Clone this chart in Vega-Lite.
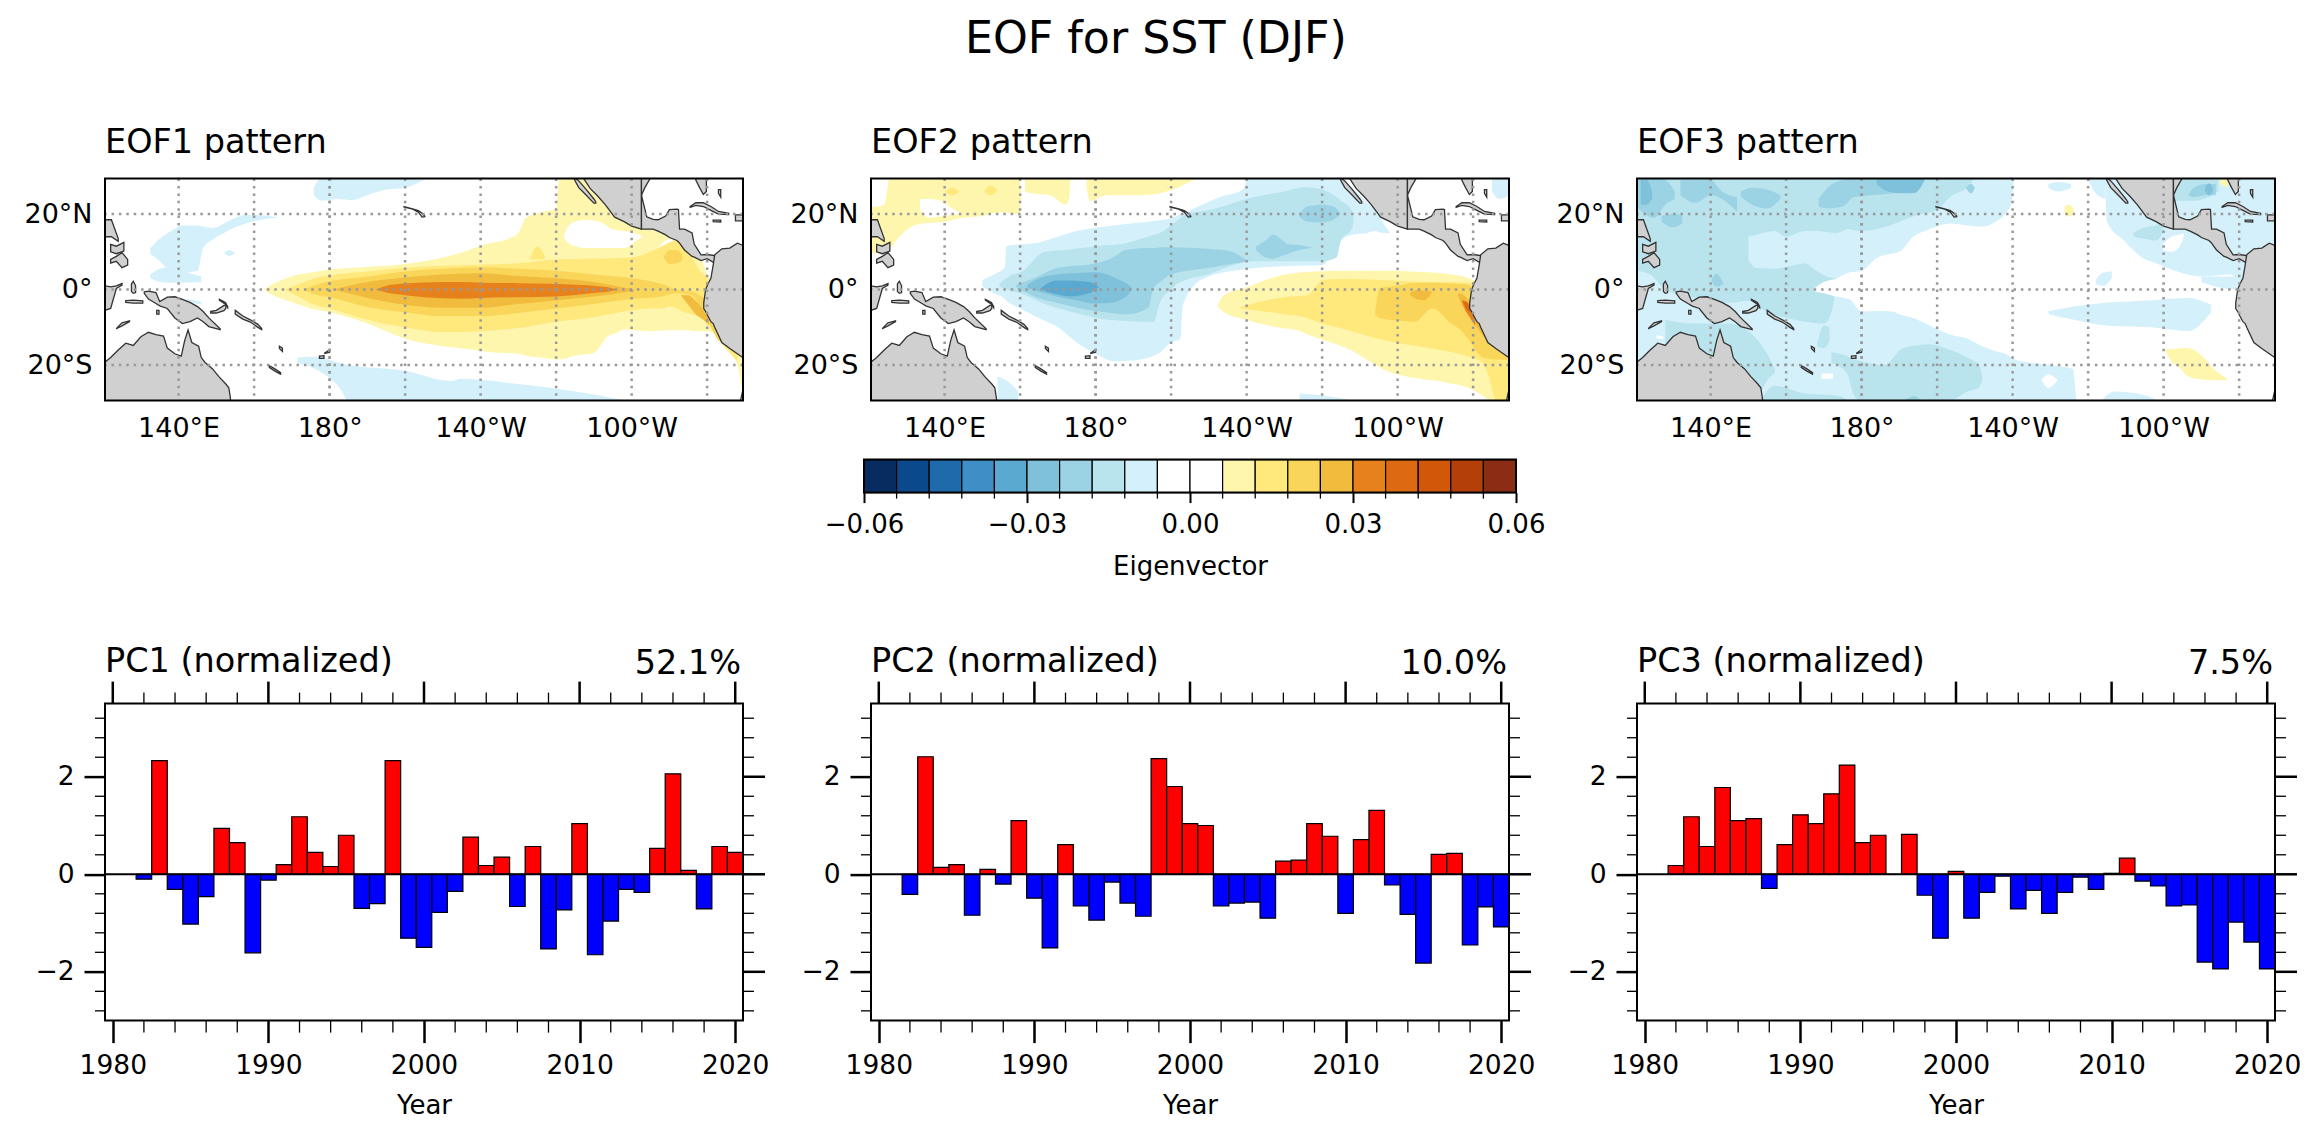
{"$schema":"https://vega.github.io/schema/vega-lite/v6.json","padding":{"left":23,"top":17.6,"right":10,"bottom":10},"background":"white","title":{"text":"EOF for SST (DJF)","fontSize":44.3,"anchor":"middle","offset":63.4,"dx":-6.6},"config":{"font":"DejaVu Sans","view":{"stroke":null},"title":{"fontWeight":"normal","color":"black"},"axis":{"labelColor":"black","titleColor":"black","tickColor":"black","titleFontWeight":"normal","labelFlush":false}},
"datasets":{
"one":[{"s":1}],
"xmaj":[{"year":1980},{"year":1990},{"year":2000},{"year":2010},{"year":2020}],
"xmin":[{"year":1982},{"year":1984},{"year":1986},{"year":1988},{"year":1992},{"year":1994},{"year":1996},{"year":1998},{"year":2002},{"year":2004},{"year":2006},{"year":2008},{"year":2012},{"year":2014},{"year":2016},{"year":2018}],
"ymaj":[{"pc":-2},{"pc":0},{"pc":2}],
"ymin":[{"pc":-2.8},{"pc":-2.4},{"pc":-1.6},{"pc":-1.2},{"pc":-0.8},{"pc":-0.4},{"pc":0.4},{"pc":0.8},{"pc":1.2},{"pc":1.6},{"pc":2.4},{"pc":2.8},{"pc":3.2}],
"cbmin":[{"lo":-0.054},{"lo":-0.048},{"lo":-0.042},{"lo":-0.036},{"lo":-0.024},{"lo":-0.018},{"lo":-0.012},{"lo":-0.006},{"lo":0.006},{"lo":0.012},{"lo":0.018},{"lo":0.024},{"lo":0.036},{"lo":0.042},{"lo":0.048},{"lo":0.054}],
"land":[
{"p":"aus","lon":120,"t":-19.6,"b":-30},{"p":"aus","lon":122,"t":-18,"b":-30},{"p":"aus","lon":124,"t":-16,"b":-30},{"p":"aus","lon":126,"t":-14.2,"b":-30},{"p":"aus","lon":128,"t":-14.8,"b":-30},{"p":"aus","lon":130,"t":-12.5,"b":-30},{"p":"aus","lon":132,"t":-11.3,"b":-30},{"p":"aus","lon":134,"t":-11.9,"b":-30},{"p":"aus","lon":136,"t":-12.3,"b":-30},{"p":"aus","lon":137,"t":-15.5,"b":-30},{"p":"aus","lon":139,"t":-17,"b":-30},{"p":"aus","lon":140.7,"t":-17.6,"b":-30},{"p":"aus","lon":141.6,"t":-13.5,"b":-30},{"p":"aus","lon":142.5,"t":-10.7,"b":-30},{"p":"aus","lon":143.5,"t":-14,"b":-30},{"p":"aus","lon":145.3,"t":-15,"b":-30},{"p":"aus","lon":146,"t":-18,"b":-30},{"p":"aus","lon":147,"t":-19.3,"b":-30},{"p":"aus","lon":149,"t":-21,"b":-30},{"p":"aus","lon":150.6,"t":-23,"b":-30},{"p":"aus","lon":152.5,"t":-25,"b":-30},{"p":"aus","lon":153.3,"t":-26,"b":-30},{"p":"aus","lon":153.7,"t":-28.6,"b":-30},{"p":"aus","lon":153.8,"t":-30,"b":-30},
{"p":"png","lon":130.9,"t":-0.6,"b":-1},{"p":"png","lon":132,"t":-0.4,"b":-2.5},{"p":"png","lon":134,"t":-0.8,"b":-3.7},{"p":"png","lon":135,"t":-3.2,"b":-4.3},{"p":"png","lon":137,"t":-2,"b":-5},{"p":"png","lon":139,"t":-1.9,"b":-7.5},{"p":"png","lon":141,"t":-2.6,"b":-9},{"p":"png","lon":143,"t":-3.4,"b":-8.5},{"p":"png","lon":145,"t":-4.5,"b":-7.5},{"p":"png","lon":146.5,"t":-5.8,"b":-8.5},{"p":"png","lon":148,"t":-7.5,"b":-9.8},{"p":"png","lon":151,"t":-10.4,"b":-10.6},
{"p":"luz","lon":120.4,"t":18.5,"b":14},{"p":"luz","lon":122.2,"t":18.5,"b":14},{"p":"luz","lon":124,"t":13.5,"b":12.8},
{"p":"vis","lon":122,"t":12,"b":10},{"p":"vis","lon":123.5,"t":11.5,"b":9.5},{"p":"vis","lon":125.5,"t":12.5,"b":10.2},
{"p":"min","lon":122,"t":8,"b":7},{"p":"min","lon":123.5,"t":8.8,"b":7.5},{"p":"min","lon":125,"t":9.8,"b":5.8},{"p":"min","lon":126.5,"t":8,"b":6.5},
{"p":"hal","lon":127.5,"t":1.5,"b":-0.5},{"p":"hal","lon":128,"t":2.2,"b":-1},{"p":"hal","lon":128.6,"t":1,"b":-0.8},
{"p":"sul","lon":120.4,"t":1,"b":-5.5},{"p":"sul","lon":122,"t":0.7,"b":-5},{"p":"sul","lon":123.5,"t":1,"b":0.3},{"p":"sul","lon":125,"t":1.6,"b":1.2},
{"p":"ser","lon":126,"t":-2.9,"b":-3.4},{"p":"ser","lon":128,"t":-2.8,"b":-3.6},{"p":"ser","lon":130.5,"t":-3,"b":-3.6},
{"p":"tim","lon":123.6,"t":-10.2,"b":-10.3},{"p":"tim","lon":125,"t":-8.8,"b":-9.6},{"p":"tim","lon":127,"t":-8.3,"b":-8.5},
{"p":"aru","lon":134.2,"t":-5.5,"b":-6.5},{"p":"aru","lon":134.8,"t":-5.5,"b":-6.5},
{"p":"nb","lon":148.5,"t":-5.8,"b":-6.2},{"p":"nb","lon":150,"t":-5.5,"b":-6.2},{"p":"nb","lon":152,"t":-4.2,"b":-5.6},{"p":"nb","lon":152.5,"t":-4.2,"b":-5},
{"p":"ni","lon":150.8,"t":-2.6,"b":-2.8},{"p":"ni","lon":152.4,"t":-3.4,"b":-3.9},{"p":"ni","lon":153,"t":-4.5,"b":-4.8},
{"p":"sol","lon":155,"t":-5.5,"b":-6.5},{"p":"sol","lon":157,"t":-7,"b":-7.8},{"p":"sol","lon":159,"t":-8,"b":-8.6},{"p":"sol","lon":161,"t":-9.2,"b":-10},{"p":"sol","lon":162,"t":-10.3,"b":-10.6},
{"p":"van","lon":166.7,"t":-15,"b":-15.6},{"p":"van","lon":167.5,"t":-15.5,"b":-16.4},
{"p":"nc","lon":164,"t":-20.1,"b":-20.6},{"p":"nc","lon":165.5,"t":-21,"b":-21.6},{"p":"nc","lon":167,"t":-22,"b":-22.4},
{"p":"fj1","lon":177.3,"t":-17.6,"b":-18.2},{"p":"fj1","lon":178.5,"t":-17.5,"b":-18.2},
{"p":"fj2","lon":178.7,"t":-16.8,"b":-16.9},{"p":"fj2","lon":180,"t":-15.9,"b":-16.6},
{"p":"haw","lon":199.7,"t":22,"b":21.9},{"p":"haw","lon":202,"t":21.4,"b":21.3},{"p":"haw","lon":203.5,"t":20.9,"b":20.5},{"p":"haw","lon":204.5,"t":20.2,"b":19.2},{"p":"haw","lon":205.2,"t":19.5,"b":19.3},
{"p":"baj","lon":244.9,"t":29.6,"b":29},{"p":"baj","lon":246,"t":28.8,"b":27},{"p":"baj","lon":248,"t":26.5,"b":25},{"p":"baj","lon":250,"t":24,"b":22.9},{"p":"baj","lon":250.5,"t":23.2,"b":22.9},
{"p":"mex","lon":247.3,"t":30,"b":29.4},{"p":"mex","lon":249,"t":30,"b":26.8},{"p":"mex","lon":251,"t":30,"b":24.8},{"p":"mex","lon":253,"t":30,"b":22.5},{"p":"mex","lon":254.5,"t":30,"b":20.5},{"p":"mex","lon":255.5,"t":30,"b":19.2},{"p":"mex","lon":258,"t":30,"b":18},{"p":"mex","lon":260,"t":30,"b":16.8},{"p":"mex","lon":262.6,"t":30,"b":16},
{"p":"mx2","lon":262.6,"t":30,"b":25},{"p":"mx2","lon":263.5,"t":30,"b":27},{"p":"mx2","lon":265,"t":30,"b":29.6},
{"p":"cam","lon":262.6,"t":25,"b":16},{"p":"cam","lon":264,"t":19.3,"b":16},{"p":"cam","lon":265.7,"t":18.6,"b":16},{"p":"cam","lon":267,"t":18.5,"b":15.5},{"p":"cam","lon":269,"t":19.5,"b":14.5},{"p":"cam","lon":270,"t":21.2,"b":13.8},{"p":"cam","lon":272,"t":21.3,"b":13},{"p":"cam","lon":272.4,"t":21.2,"b":12.6},{"p":"cam","lon":272.7,"t":16,"b":12.3},{"p":"cam","lon":274,"t":16,"b":10.5},{"p":"cam","lon":276,"t":15,"b":8.8},{"p":"cam","lon":276.6,"t":12,"b":8.6},{"p":"cam","lon":278.4,"t":9.2,"b":7.7},{"p":"cam","lon":280,"t":9.3,"b":8.2},{"p":"cam","lon":282,"t":9,"b":7},
{"p":"sam","lon":279.1,"t":-3.5,"b":-5},{"p":"sam","lon":279.6,"t":0,"b":-5.8},{"p":"sam","lon":280.2,"t":1.5,"b":-7},{"p":"sam","lon":281,"t":3,"b":-8.5},{"p":"sam","lon":281.6,"t":6.5,"b":-9},{"p":"sam","lon":282,"t":9.2,"b":-10},{"p":"sam","lon":283.9,"t":10.8,"b":-14},{"p":"sam","lon":286,"t":11,"b":-15.6},{"p":"sam","lon":288,"t":12.3,"b":-17},{"p":"sam","lon":290,"t":11.5,"b":-18.4},
{"p":"chi","lon":288.7,"t":-30,"b":-30},{"p":"chi","lon":289.6,"t":-26,"b":-30},
{"p":"flo","lon":277,"t":30,"b":29},{"p":"flo","lon":278,"t":30,"b":27},{"p":"flo","lon":279,"t":30,"b":25.2},{"p":"flo","lon":279.8,"t":30,"b":26},
{"p":"cub","lon":275.5,"t":22,"b":21.8},{"p":"cub","lon":277,"t":23,"b":22.3},{"p":"cub","lon":279,"t":23,"b":22},{"p":"cub","lon":281,"t":22,"b":21},{"p":"cub","lon":283,"t":20.7,"b":20},{"p":"cub","lon":285.7,"t":20.2,"b":19.9},
{"p":"jam","lon":281.6,"t":18.4,"b":18},{"p":"jam","lon":283.6,"t":18.4,"b":17.9},
{"p":"his","lon":287.5,"t":19.8,"b":18.2},{"p":"his","lon":289.7,"t":19.8,"b":18.2},
{"p":"bah","lon":283,"t":26.5,"b":25.5},{"p":"bah","lon":283.6,"t":26.5,"b":24.5}
],
"gridlon":[{"lon":140},{"lon":160},{"lon":180},{"lon":180},{"lon":200},{"lon":220},{"lon":240},{"lon":260},{"lon":280}],
"gridlat":[{"t":-20},{"t":0},{"t":20}],
"eof1":[
{"p":"a","v":0.009,"lon":162.5,"t":0,"b":0},{"p":"a","v":0.009,"lon":165,"t":1.5,"b":-1.5},{"p":"a","v":0.009,"lon":170,"t":3.5,"b":-3.3},{"p":"a","v":0.009,"lon":175,"t":4.5,"b":-5},{"p":"a","v":0.009,"lon":180,"t":5.3,"b":-6},{"p":"a","v":0.009,"lon":190,"t":6,"b":-9},{"p":"a","v":0.009,"lon":200,"t":6.8,"b":-13},{"p":"a","v":0.009,"lon":210,"t":8.5,"b":-15},{"p":"a","v":0.009,"lon":217,"t":10.5,"b":-15.8},{"p":"a","v":0.009,"lon":222,"t":12.2,"b":-16.5},{"p":"a","v":0.009,"lon":227,"t":13.3,"b":-16.8},{"p":"a","v":0.009,"lon":230,"t":15,"b":-17},{"p":"a","v":0.009,"lon":232,"t":19,"b":-17.5},{"p":"a","v":0.009,"lon":236,"t":20.5,"b":-18},{"p":"a","v":0.009,"lon":240,"t":21.5,"b":-18.5},{"p":"a","v":0.009,"lon":240.8,"t":29.6,"b":-18.5},{"p":"a","v":0.009,"lon":245,"t":29.6,"b":-17.5},{"p":"a","v":0.009,"lon":250,"t":29.6,"b":-16.8},{"p":"a","v":0.009,"lon":252,"t":29.6,"b":-14.5},{"p":"a","v":0.009,"lon":253.5,"t":29.6,"b":-12.5},{"p":"a","v":0.009,"lon":256,"t":20,"b":-11.5},{"p":"a","v":0.009,"lon":258,"t":18.5,"b":-10.5},{"p":"a","v":0.009,"lon":260,"t":18,"b":-10.8},{"p":"a","v":0.009,"lon":265,"t":17,"b":-11},{"p":"a","v":0.009,"lon":270,"t":15,"b":-10.8},{"p":"a","v":0.009,"lon":274,"t":11.5,"b":-10.8},{"p":"a","v":0.009,"lon":278,"t":9,"b":-11},{"p":"a","v":0.009,"lon":280,"t":4,"b":-11},{"p":"a","v":0.009,"lon":281,"t":2,"b":-11.2},{"p":"a","v":0.009,"lon":282,"t":-8,"b":-11.5},{"p":"a","v":0.009,"lon":284,"t":-10,"b":-14.7},{"p":"a","v":0.009,"lon":286,"t":-14,"b":-17},{"p":"a","v":0.009,"lon":288,"t":-17,"b":-20},{"p":"a","v":0.009,"lon":289.6,"t":-18,"b":-29.6},
{"p":"h1","v":0.003,"lon":242,"t":14,"b":14},{"p":"h1","v":0.003,"lon":243,"t":16.5,"b":12.5},{"p":"h1","v":0.003,"lon":245,"t":18,"b":11.5},{"p":"h1","v":0.003,"lon":248,"t":18.5,"b":11},{"p":"h1","v":0.003,"lon":252,"t":17.8,"b":11},{"p":"h1","v":0.003,"lon":255,"t":16,"b":11},{"p":"h1","v":0.003,"lon":258,"t":15.5,"b":11},{"p":"h1","v":0.003,"lon":260,"t":15.2,"b":12},{"p":"h1","v":0.003,"lon":262,"t":14.5,"b":13.5},{"p":"h1","v":0.003,"lon":263,"t":14,"b":14},
{"p":"h2","v":0.003,"lon":267,"t":11,"b":10.5},{"p":"h2","v":0.003,"lon":269,"t":13,"b":11},{"p":"h2","v":0.003,"lon":271,"t":13.5,"b":13},
{"p":"b","v":0.015,"lon":168,"t":0,"b":0},{"p":"b","v":0.015,"lon":172,"t":1.5,"b":-2},{"p":"b","v":0.015,"lon":176,"t":3,"b":-4},{"p":"b","v":0.015,"lon":180,"t":3.8,"b":-5},{"p":"b","v":0.015,"lon":190,"t":4.8,"b":-8},{"p":"b","v":0.015,"lon":200,"t":5.8,"b":-10},{"p":"b","v":0.015,"lon":210,"t":6.3,"b":-11.3},{"p":"b","v":0.015,"lon":220,"t":6.6,"b":-11},{"p":"b","v":0.015,"lon":230,"t":7,"b":-10.2},{"p":"b","v":0.015,"lon":240,"t":8,"b":-8.5},{"p":"b","v":0.015,"lon":250,"t":8.2,"b":-7.3},{"p":"b","v":0.015,"lon":260,"t":8.5,"b":-5.5},{"p":"b","v":0.015,"lon":265,"t":10,"b":-5},{"p":"b","v":0.015,"lon":268,"t":11.5,"b":-5},{"p":"b","v":0.015,"lon":270,"t":12.5,"b":-4.5},{"p":"b","v":0.015,"lon":272,"t":13,"b":-5},{"p":"b","v":0.015,"lon":274,"t":10.5,"b":-6},{"p":"b","v":0.015,"lon":276,"t":8.5,"b":-6.5},{"p":"b","v":0.015,"lon":278,"t":5,"b":-7},{"p":"b","v":0.015,"lon":280,"t":3,"b":-8.5},{"p":"b","v":0.015,"lon":281,"t":1,"b":-10},{"p":"b","v":0.015,"lon":282,"t":0,"b":-11},{"p":"b","v":0.015,"lon":283.5,"t":-8,"b":-13.5},{"p":"b","v":0.015,"lon":284.5,"t":-12,"b":-14.8},{"p":"b","v":0.015,"lon":286,"t":-14,"b":-16.5},{"p":"b","v":0.015,"lon":288,"t":-17,"b":-19},
{"p":"b2","v":0.015,"lon":233,"t":8,"b":8},{"p":"b2","v":0.015,"lon":235,"t":11.4,"b":8},{"p":"b2","v":0.015,"lon":237,"t":9,"b":8},
{"p":"c2","v":0.021,"lon":268.5,"t":8.5,"b":8.5},{"p":"c2","v":0.021,"lon":270,"t":10.5,"b":6.8},{"p":"c2","v":0.021,"lon":272,"t":10.5,"b":7},{"p":"c2","v":0.021,"lon":273.5,"t":9,"b":8},
{"p":"c","v":0.021,"lon":173,"t":0,"b":0},{"p":"c","v":0.021,"lon":176,"t":1.2,"b":-1.2},{"p":"c","v":0.021,"lon":180,"t":2.2,"b":-2},{"p":"c","v":0.021,"lon":190,"t":3.5,"b":-4.6},{"p":"c","v":0.021,"lon":200,"t":4.8,"b":-6},{"p":"c","v":0.021,"lon":210,"t":5.5,"b":-7},{"p":"c","v":0.021,"lon":220,"t":5.9,"b":-7},{"p":"c","v":0.021,"lon":230,"t":5.5,"b":-6.2},{"p":"c","v":0.021,"lon":240,"t":5,"b":-5},{"p":"c","v":0.021,"lon":250,"t":4,"b":-3.8},{"p":"c","v":0.021,"lon":260,"t":3,"b":-2.5},{"p":"c","v":0.021,"lon":268,"t":1.5,"b":-1.8},{"p":"c","v":0.021,"lon":272,"t":0,"b":-1},{"p":"c","v":0.021,"lon":276,"t":-0.5,"b":-1.5},{"p":"c","v":0.021,"lon":278,"t":-1.5,"b":-4.5},{"p":"c","v":0.021,"lon":279.5,"t":-3,"b":-7},{"p":"c","v":0.021,"lon":281,"t":-7,"b":-10},{"p":"c","v":0.021,"lon":283,"t":-11.5,"b":-13.5},{"p":"c","v":0.021,"lon":284,"t":-13.5,"b":-14.3},
{"p":"d","v":0.027,"lon":181,"t":0,"b":0},{"p":"d","v":0.027,"lon":185,"t":1,"b":-1},{"p":"d","v":0.027,"lon":190,"t":2,"b":-2.2},{"p":"d","v":0.027,"lon":200,"t":3.2,"b":-4},{"p":"d","v":0.027,"lon":210,"t":4,"b":-4.8},{"p":"d","v":0.027,"lon":220,"t":4.3,"b":-4.8},{"p":"d","v":0.027,"lon":230,"t":3.6,"b":-3.8},{"p":"d","v":0.027,"lon":240,"t":3,"b":-2.8},{"p":"d","v":0.027,"lon":250,"t":2,"b":-1.8},{"p":"d","v":0.027,"lon":258,"t":0.5,"b":-0.7},{"p":"d","v":0.027,"lon":261,"t":0,"b":0},
{"p":"d2","v":0.027,"lon":273,"t":-1.5,"b":-1.5},{"p":"d2","v":0.027,"lon":275,"t":-1.5,"b":-4},{"p":"d2","v":0.027,"lon":277,"t":-3,"b":-6.5},{"p":"d2","v":0.027,"lon":279,"t":-5.5,"b":-8},{"p":"d2","v":0.027,"lon":280.5,"t":-8,"b":-9.5},
{"p":"e","v":0.033,"lon":192.2,"t":0,"b":0},{"p":"e","v":0.033,"lon":195,"t":1,"b":-0.8},{"p":"e","v":0.033,"lon":200,"t":1.6,"b":-1.5},{"p":"e","v":0.033,"lon":210,"t":2,"b":-2.3},{"p":"e","v":0.033,"lon":215,"t":2,"b":-2.4},{"p":"e","v":0.033,"lon":220,"t":1.8,"b":-2.2},{"p":"e","v":0.033,"lon":230,"t":1.7,"b":-2},{"p":"e","v":0.033,"lon":240,"t":1.5,"b":-1.8},{"p":"e","v":0.033,"lon":250,"t":1,"b":-0.9},{"p":"e","v":0.033,"lon":255,"t":0.3,"b":-0.3},{"p":"e","v":0.033,"lon":256,"t":0,"b":0},
{"p":"n1","v":-0.009,"lon":132.5,"t":11,"b":9.5},{"p":"n1","v":-0.009,"lon":135,"t":13.5,"b":7.5},{"p":"n1","v":-0.009,"lon":138,"t":15.5,"b":5},{"p":"n1","v":-0.009,"lon":141,"t":17,"b":4.5},{"p":"n1","v":-0.009,"lon":145,"t":17,"b":5},{"p":"n1","v":-0.009,"lon":146.5,"t":16.7,"b":11},{"p":"n1","v":-0.009,"lon":149,"t":16.3,"b":13.2},{"p":"n1","v":-0.009,"lon":152,"t":17.5,"b":15},{"p":"n1","v":-0.009,"lon":155,"t":19,"b":16.5},{"p":"n1","v":-0.009,"lon":158,"t":19.8,"b":17.6},{"p":"n1","v":-0.009,"lon":162,"t":19.7,"b":18.5},{"p":"n1","v":-0.009,"lon":166,"t":19.2,"b":19},
{"p":"n2","v":-0.009,"lon":132.5,"t":4,"b":3},{"p":"n2","v":-0.009,"lon":135,"t":5.5,"b":2},{"p":"n2","v":-0.009,"lon":138,"t":6,"b":1.8},{"p":"n2","v":-0.009,"lon":141,"t":5,"b":1.8},{"p":"n2","v":-0.009,"lon":146,"t":3.5,"b":2},
{"p":"n3","v":-0.009,"lon":152,"t":9.7,"b":9.7},{"p":"n3","v":-0.009,"lon":153.4,"t":10.4,"b":8.9},{"p":"n3","v":-0.009,"lon":155,"t":9.7,"b":9.7},
{"p":"n4","v":-0.009,"lon":175.8,"t":27,"b":25},{"p":"n4","v":-0.009,"lon":178,"t":29.6,"b":23.5},{"p":"n4","v":-0.009,"lon":182,"t":29.6,"b":24},{"p":"n4","v":-0.009,"lon":186,"t":29.6,"b":23.7},{"p":"n4","v":-0.009,"lon":190,"t":29.6,"b":25},{"p":"n4","v":-0.009,"lon":195,"t":29.6,"b":26.5},{"p":"n4","v":-0.009,"lon":200,"t":29.6,"b":27},{"p":"n4","v":-0.009,"lon":206,"t":29.6,"b":29.6},
{"p":"n5","v":-0.009,"lon":171.5,"t":-18,"b":-19.5},{"p":"n5","v":-0.009,"lon":175,"t":-17.8,"b":-20.5},{"p":"n5","v":-0.009,"lon":179,"t":-18.3,"b":-22.7},{"p":"n5","v":-0.009,"lon":183,"t":-19.5,"b":-26.5},{"p":"n5","v":-0.009,"lon":185,"t":-20,"b":-29.6},{"p":"n5","v":-0.009,"lon":200,"t":-21.5,"b":-29.6},{"p":"n5","v":-0.009,"lon":212,"t":-24.2,"b":-29.6},{"p":"n5","v":-0.009,"lon":215,"t":-23.6,"b":-29.6},{"p":"n5","v":-0.009,"lon":230,"t":-25,"b":-29.6},{"p":"n5","v":-0.009,"lon":242,"t":-26.5,"b":-29.6},{"p":"n5","v":-0.009,"lon":250,"t":-27.8,"b":-29.6},{"p":"n5","v":-0.009,"lon":259,"t":-29.6,"b":-29.6},
{"p":"n6","v":-0.009,"lon":142,"t":-2.5,"b":-3},{"p":"n6","v":-0.009,"lon":146,"t":-3.2,"b":-4}
],
"eof2":[
{"p":"a","v":0.009,"lon":120.4,"t":22,"b":10},{"p":"a","v":0.009,"lon":122,"t":22,"b":9.5},{"p":"a","v":0.009,"lon":124,"t":22.5,"b":10.5},{"p":"a","v":0.009,"lon":125.5,"t":29.6,"b":11},{"p":"a","v":0.009,"lon":128,"t":29.6,"b":14},{"p":"a","v":0.009,"lon":131,"t":29.6,"b":16.5},{"p":"a","v":0.009,"lon":134,"t":29.6,"b":17.5},{"p":"a","v":0.009,"lon":140,"t":29.6,"b":18},{"p":"a","v":0.009,"lon":145,"t":29.6,"b":19},{"p":"a","v":0.009,"lon":150,"t":29.6,"b":19.5},{"p":"a","v":0.009,"lon":155,"t":29.6,"b":20.5},{"p":"a","v":0.009,"lon":159.8,"t":29.6,"b":20},{"p":"a","v":0.009,"lon":160.3,"t":25,"b":25},
{"p":"h","v":0.003,"lon":133.5,"t":24,"b":21},{"p":"h","v":0.003,"lon":136,"t":24,"b":19},{"p":"h","v":0.003,"lon":139,"t":23.5,"b":19.4},{"p":"h","v":0.003,"lon":142,"t":21.5,"b":19.8},{"p":"h","v":0.003,"lon":145,"t":20,"b":20},
{"p":"s1","v":0.015,"lon":140,"t":26,"b":26},{"p":"s1","v":0.015,"lon":142,"t":27,"b":25},{"p":"s1","v":0.015,"lon":144,"t":26,"b":26},
{"p":"s2","v":0.015,"lon":150.5,"t":26,"b":26},{"p":"s2","v":0.015,"lon":152,"t":27.5,"b":25},{"p":"s2","v":0.015,"lon":154,"t":26.4,"b":26.4},
{"p":"b1","v":0.009,"lon":161.3,"t":29.6,"b":26},{"p":"b1","v":0.009,"lon":163,"t":29.6,"b":25.5},{"p":"b1","v":0.009,"lon":168,"t":29.6,"b":25},{"p":"b1","v":0.009,"lon":172,"t":29.6,"b":22.5},{"p":"b1","v":0.009,"lon":173,"t":29.6,"b":24},{"p":"b1","v":0.009,"lon":173.3,"t":29.6,"b":29.6},
{"p":"c1","v":0.009,"lon":177.6,"t":29.6,"b":27},{"p":"c1","v":0.009,"lon":178.5,"t":29.6,"b":23.5},{"p":"c1","v":0.009,"lon":183,"t":29.6,"b":25},{"p":"c1","v":0.009,"lon":188,"t":29.6,"b":25},{"p":"c1","v":0.009,"lon":192,"t":29.6,"b":25},{"p":"c1","v":0.009,"lon":200,"t":29.6,"b":26.3},{"p":"c1","v":0.009,"lon":207,"t":29.6,"b":29.6},
{"p":"at","v":-0.009,"lon":285,"t":29.6,"b":26},{"p":"at","v":-0.009,"lon":287,"t":29.6,"b":24},{"p":"at","v":-0.009,"lon":289.6,"t":29.6,"b":25},
{"p":"n1","v":-0.009,"lon":150,"t":2.5,"b":0.8},{"p":"n1","v":-0.009,"lon":153,"t":4,"b":-1},{"p":"n1","v":-0.009,"lon":156,"t":6,"b":-2.5},{"p":"n1","v":-0.009,"lon":156.3,"t":11.5,"b":-2.8},{"p":"n1","v":-0.009,"lon":160,"t":12,"b":-5},{"p":"n1","v":-0.009,"lon":165,"t":12.5,"b":-7.5},{"p":"n1","v":-0.009,"lon":170,"t":14,"b":-10},{"p":"n1","v":-0.009,"lon":175,"t":15.5,"b":-14},{"p":"n1","v":-0.009,"lon":180,"t":16.4,"b":-17},{"p":"n1","v":-0.009,"lon":185,"t":17,"b":-19},{"p":"n1","v":-0.009,"lon":190,"t":17.6,"b":-18.8},{"p":"n1","v":-0.009,"lon":196.5,"t":18.3,"b":-17},{"p":"n1","v":-0.009,"lon":200,"t":18.9,"b":-14},{"p":"n1","v":-0.009,"lon":202.5,"t":20,"b":-13},{"p":"n1","v":-0.009,"lon":203,"t":20.2,"b":-5},{"p":"n1","v":-0.009,"lon":204,"t":20.5,"b":-2},{"p":"n1","v":-0.009,"lon":206,"t":21.5,"b":1},{"p":"n1","v":-0.009,"lon":210,"t":23.3,"b":3.5},{"p":"n1","v":-0.009,"lon":213,"t":24.5,"b":4.3},{"p":"n1","v":-0.009,"lon":219,"t":26.5,"b":5.3},{"p":"n1","v":-0.009,"lon":220.5,"t":29.6,"b":5.5},{"p":"n1","v":-0.009,"lon":230,"t":29.6,"b":6.2},{"p":"n1","v":-0.009,"lon":240,"t":29.6,"b":6.5},{"p":"n1","v":-0.009,"lon":243,"t":29.6,"b":10},{"p":"n1","v":-0.009,"lon":245,"t":29.6,"b":13},{"p":"n1","v":-0.009,"lon":248,"t":27,"b":14.5},{"p":"n1","v":-0.009,"lon":252,"t":23,"b":15},{"p":"n1","v":-0.009,"lon":254,"t":21,"b":15.5},{"p":"n1","v":-0.009,"lon":256,"t":18,"b":15},{"p":"n1","v":-0.009,"lon":258,"t":15,"b":15},
{"p":"n2","v":-0.015,"lon":154.5,"t":1.5,"b":0.8},{"p":"n2","v":-0.015,"lon":158,"t":4,"b":-0.5},{"p":"n2","v":-0.015,"lon":160,"t":4.5,"b":-1},{"p":"n2","v":-0.015,"lon":166.5,"t":10,"b":-3.8},{"p":"n2","v":-0.015,"lon":172,"t":10.5,"b":-5.5},{"p":"n2","v":-0.015,"lon":176,"t":11,"b":-6.5},{"p":"n2","v":-0.015,"lon":180,"t":11.5,"b":-7.5},{"p":"n2","v":-0.015,"lon":188,"t":12.3,"b":-8.3},{"p":"n2","v":-0.015,"lon":192,"t":13.5,"b":-8.5},{"p":"n2","v":-0.015,"lon":195.5,"t":14.5,"b":-8.5},{"p":"n2","v":-0.015,"lon":197,"t":15,"b":-3.5},{"p":"n2","v":-0.015,"lon":200,"t":17,"b":0},{"p":"n2","v":-0.015,"lon":201.3,"t":18,"b":1.3},{"p":"n2","v":-0.015,"lon":203.7,"t":19.8,"b":2.5},{"p":"n2","v":-0.015,"lon":209.8,"t":21,"b":4},{"p":"n2","v":-0.015,"lon":215,"t":22.5,"b":6},{"p":"n2","v":-0.015,"lon":222,"t":24.5,"b":7.5},{"p":"n2","v":-0.015,"lon":230,"t":26,"b":7.5},{"p":"n2","v":-0.015,"lon":235.3,"t":27.2,"b":7.5},{"p":"n2","v":-0.015,"lon":240,"t":26.5,"b":7.5},{"p":"n2","v":-0.015,"lon":243.8,"t":24.5,"b":8.5},{"p":"n2","v":-0.015,"lon":245,"t":23.5,"b":13},{"p":"n2","v":-0.015,"lon":248,"t":20.7,"b":16.3},{"p":"n2","v":-0.015,"lon":248.3,"t":18.5,"b":18.5},
{"p":"n3","v":-0.021,"lon":158.8,"t":1.2,"b":0.8},{"p":"n3","v":-0.021,"lon":163.7,"t":3,"b":-1.8},{"p":"n3","v":-0.021,"lon":169.7,"t":5.7,"b":-3.5},{"p":"n3","v":-0.021,"lon":180,"t":7,"b":-5.7},{"p":"n3","v":-0.021,"lon":184.3,"t":8.4,"b":-6.2},{"p":"n3","v":-0.021,"lon":188,"t":10.5,"b":-6.6},{"p":"n3","v":-0.021,"lon":194,"t":11,"b":-4.8},{"p":"n3","v":-0.021,"lon":195.2,"t":11,"b":0},{"p":"n3","v":-0.021,"lon":197.7,"t":11.2,"b":2.5},{"p":"n3","v":-0.021,"lon":200,"t":11.2,"b":4},{"p":"n3","v":-0.021,"lon":209.8,"t":10.8,"b":5.7},{"p":"n3","v":-0.021,"lon":215.9,"t":10.1,"b":6.8},{"p":"n3","v":-0.021,"lon":220,"t":7.9,"b":7.5},{"p":"n3","v":-0.021,"lon":220.5,"t":7.7,"b":7.7},
{"p":"n4","v":-0.021,"lon":222.5,"t":11.5,"b":10.5},{"p":"n4","v":-0.021,"lon":225,"t":13,"b":8.5},{"p":"n4","v":-0.021,"lon":227,"t":14.5,"b":8.2},{"p":"n4","v":-0.021,"lon":229,"t":13.5,"b":8.8},{"p":"n4","v":-0.021,"lon":231,"t":12,"b":9.5},{"p":"n4","v":-0.021,"lon":234,"t":11.8,"b":10.5},{"p":"n4","v":-0.021,"lon":237.5,"t":11,"b":11},
{"p":"n5","v":-0.021,"lon":234,"t":19.8,"b":19.3},{"p":"n5","v":-0.021,"lon":236,"t":22,"b":18},{"p":"n5","v":-0.021,"lon":240,"t":22.5,"b":17.8},{"p":"n5","v":-0.021,"lon":243,"t":22,"b":18.5},{"p":"n5","v":-0.021,"lon":245,"t":20,"b":20},
{"p":"n6","v":-0.027,"lon":161.9,"t":1.2,"b":0.5},{"p":"n6","v":-0.027,"lon":165,"t":3,"b":-0.5},{"p":"n6","v":-0.027,"lon":169.7,"t":4,"b":-1.8},{"p":"n6","v":-0.027,"lon":175,"t":4.4,"b":-2.8},{"p":"n6","v":-0.027,"lon":180,"t":4.6,"b":-3.7},{"p":"n6","v":-0.027,"lon":184.3,"t":3.5,"b":-3.5},{"p":"n6","v":-0.027,"lon":187,"t":2.2,"b":-2.5},{"p":"n6","v":-0.027,"lon":189.2,"t":0.9,"b":-0.5},{"p":"n6","v":-0.027,"lon":189.5,"t":0.6,"b":0.6},
{"p":"n7","v":-0.033,"lon":165.5,"t":0.4,"b":0.3},{"p":"n7","v":-0.033,"lon":167,"t":1.5,"b":-0.5},{"p":"n7","v":-0.033,"lon":169.7,"t":2.4,"b":-1.2},{"p":"n7","v":-0.033,"lon":173.4,"t":2.4,"b":-1.8},{"p":"n7","v":-0.033,"lon":178.2,"t":2,"b":-1},{"p":"n7","v":-0.033,"lon":180.7,"t":0.9,"b":0.5},
{"p":"sb","v":-0.009,"lon":154,"t":-23,"b":-29.6},{"p":"sb","v":-0.009,"lon":157,"t":-24.5,"b":-29.6},{"p":"sb","v":-0.009,"lon":159.5,"t":-27,"b":-29.6},
{"p":"sc","v":-0.009,"lon":234,"t":-27.5,"b":-29.6},{"p":"sc","v":-0.009,"lon":240,"t":-28,"b":-29.6},{"p":"sc","v":-0.009,"lon":249,"t":-29.6,"b":-29.6},
{"p":"y1","v":0.009,"lon":212.2,"t":-4.4,"b":-4.4},{"p":"y1","v":0.009,"lon":214,"t":-1.5,"b":-6},{"p":"y1","v":0.009,"lon":219.5,"t":0.4,"b":-7.9},{"p":"y1","v":0.009,"lon":228,"t":3.5,"b":-10},{"p":"y1","v":0.009,"lon":234.1,"t":4.5,"b":-11},{"p":"y1","v":0.009,"lon":237.7,"t":4.8,"b":-12.5},{"p":"y1","v":0.009,"lon":246.2,"t":5,"b":-15.4},{"p":"y1","v":0.009,"lon":258.4,"t":5,"b":-22},{"p":"y1","v":0.009,"lon":265,"t":4.7,"b":-23.5},{"p":"y1","v":0.009,"lon":272.9,"t":4.2,"b":-24.6},{"p":"y1","v":0.009,"lon":280.8,"t":2.2,"b":-27},{"p":"y1","v":0.009,"lon":282,"t":0,"b":-27.8},{"p":"y1","v":0.009,"lon":285.1,"t":-14,"b":-29.6},{"p":"y1","v":0.009,"lon":289.6,"t":-18,"b":-29.6},
{"p":"y2","v":0.015,"lon":217.7,"t":-4.8,"b":-4.8},{"p":"y2","v":0.015,"lon":224.4,"t":-3,"b":-5.8},{"p":"y2","v":0.015,"lon":230,"t":-2,"b":-6.5},{"p":"y2","v":0.015,"lon":236,"t":-1.5,"b":-7.5},{"p":"y2","v":0.015,"lon":238.5,"t":1,"b":-8.5},{"p":"y2","v":0.015,"lon":240,"t":2.6,"b":-9},{"p":"y2","v":0.015,"lon":246,"t":2.8,"b":-10.5},{"p":"y2","v":0.015,"lon":254.7,"t":2.6,"b":-13},{"p":"y2","v":0.015,"lon":262,"t":2.2,"b":-14.5},{"p":"y2","v":0.015,"lon":270,"t":2,"b":-15.8},{"p":"y2","v":0.015,"lon":279,"t":1.8,"b":-17.8},{"p":"y2","v":0.015,"lon":282,"t":-3,"b":-19},{"p":"y2","v":0.015,"lon":283.9,"t":-10,"b":-22.4},{"p":"y2","v":0.015,"lon":286.3,"t":-15,"b":-29.6},{"p":"y2","v":0.015,"lon":289.6,"t":-18,"b":-29.6},
{"p":"y3","v":0.021,"lon":254,"t":-6.5,"b":-6.5},{"p":"y3","v":0.021,"lon":255.3,"t":0.4,"b":-7.5},{"p":"y3","v":0.021,"lon":260,"t":1,"b":-8.2},{"p":"y3","v":0.021,"lon":264.4,"t":1.8,"b":-8.5},{"p":"y3","v":0.021,"lon":269.3,"t":1.8,"b":-5},{"p":"y3","v":0.021,"lon":274.1,"t":1.6,"b":-9},{"p":"y3","v":0.021,"lon":277,"t":1.5,"b":-11},{"p":"y3","v":0.021,"lon":279,"t":1.3,"b":-13.5},{"p":"y3","v":0.021,"lon":281,"t":-5,"b":-16.5},{"p":"y3","v":0.021,"lon":282.6,"t":-10,"b":-18},{"p":"y3","v":0.021,"lon":286,"t":-15,"b":-18.5},{"p":"y3","v":0.021,"lon":289.5,"t":-18,"b":-18.6},
{"p":"y4","v":0.027,"lon":263.2,"t":-1,"b":-1.3},{"p":"y4","v":0.027,"lon":265,"t":-0.2,"b":-2.5},{"p":"y4","v":0.027,"lon":267,"t":-0.3,"b":-2.8},{"p":"y4","v":0.027,"lon":269,"t":-0.5,"b":-1},
{"p":"y5","v":0.027,"lon":276,"t":-1,"b":-1.5},{"p":"y5","v":0.027,"lon":277.5,"t":-1.5,"b":-5},{"p":"y5","v":0.027,"lon":279,"t":-3,"b":-7},{"p":"y5","v":0.027,"lon":281,"t":-6,"b":-10},{"p":"y5","v":0.027,"lon":283,"t":-11,"b":-12.8},
{"p":"y6","v":0.033,"lon":277,"t":-2.8,"b":-3},{"p":"y6","v":0.033,"lon":278,"t":-3,"b":-5.5},{"p":"y6","v":0.033,"lon":279.5,"t":-5,"b":-8},{"p":"y6","v":0.033,"lon":280.5,"t":-8,"b":-9.5},
{"p":"y7","v":0.039,"lon":277.5,"t":-3.2,"b":-3.5},{"p":"y7","v":0.039,"lon":278.5,"t":-3.5,"b":-5.5},{"p":"y7","v":0.039,"lon":279.5,"t":-5.5,"b":-6}
],
"eof3":[
{"p":"base","v":-0.009,"lon":120.4,"t":29.6,"b":-29.6},{"p":"base","v":-0.009,"lon":289.6,"t":29.6,"b":-29.6},
{"p":"belt","v":-0.015,"lon":120.4,"t":29.6,"b":5},{"p":"belt","v":-0.015,"lon":124,"t":29.6,"b":4},{"p":"belt","v":-0.015,"lon":128,"t":29.6,"b":0},{"p":"belt","v":-0.015,"lon":135,"t":29.6,"b":-2},{"p":"belt","v":-0.015,"lon":145,"t":29.6,"b":-3.5},{"p":"belt","v":-0.015,"lon":150,"t":29.6,"b":-3},{"p":"belt","v":-0.015,"lon":155,"t":29.6,"b":-6},{"p":"belt","v":-0.015,"lon":160,"t":29.6,"b":-7.5},{"p":"belt","v":-0.015,"lon":165,"t":29.6,"b":-8.5},{"p":"belt","v":-0.015,"lon":170,"t":29.6,"b":-9},{"p":"belt","v":-0.015,"lon":172,"t":29.6,"b":-6},{"p":"belt","v":-0.015,"lon":173,"t":29.6,"b":-1},{"p":"belt","v":-0.015,"lon":175,"t":29.6,"b":14.5},{"p":"belt","v":-0.015,"lon":176,"t":29.6,"b":16},{"p":"belt","v":-0.015,"lon":180,"t":29.6,"b":15.5},{"p":"belt","v":-0.015,"lon":186,"t":29.6,"b":16.5},{"p":"belt","v":-0.015,"lon":190,"t":29.6,"b":18},{"p":"belt","v":-0.015,"lon":194,"t":29.6,"b":19.5},{"p":"belt","v":-0.015,"lon":199.7,"t":29.6,"b":21},{"p":"belt","v":-0.015,"lon":204,"t":29.6,"b":25},{"p":"belt","v":-0.015,"lon":208,"t":29.6,"b":27},{"p":"belt","v":-0.015,"lon":210,"t":29.6,"b":29.6},
{"p":"hole","v":-0.009,"lon":150,"t":14,"b":8},{"p":"hole","v":-0.009,"lon":152,"t":14.5,"b":5.8},{"p":"hole","v":-0.009,"lon":157,"t":15.5,"b":5.5},{"p":"hole","v":-0.009,"lon":160,"t":14,"b":6},{"p":"hole","v":-0.009,"lon":165,"t":15.5,"b":7},{"p":"hole","v":-0.009,"lon":168,"t":15.5,"b":5},{"p":"hole","v":-0.009,"lon":173,"t":15,"b":3},{"p":"hole","v":-0.009,"lon":176,"t":16,"b":3},
{"p":"s1","v":-0.015,"lon":128,"t":-8,"b":-14},{"p":"s1","v":-0.015,"lon":135,"t":-9,"b":-20},{"p":"s1","v":-0.015,"lon":145,"t":-9,"b":-25},{"p":"s1","v":-0.015,"lon":150,"t":-11,"b":-27},{"p":"s1","v":-0.015,"lon":153,"t":-14,"b":-27},{"p":"s1","v":-0.015,"lon":155,"t":-17,"b":-24},{"p":"s1","v":-0.015,"lon":157,"t":-21,"b":-22},
{"p":"s2","v":-0.015,"lon":153,"t":-29.6,"b":-29.6},{"p":"s2","v":-0.015,"lon":157,"t":-25.5,"b":-29.6},{"p":"s2","v":-0.015,"lon":165,"t":-27.5,"b":-29.6},{"p":"s2","v":-0.015,"lon":173,"t":-28,"b":-29.6},{"p":"s2","v":-0.015,"lon":177,"t":-29.6,"b":-29.6},
{"p":"s3","v":-0.015,"lon":172,"t":-16.5,"b":-19.5},{"p":"s3","v":-0.015,"lon":176,"t":-17.5,"b":-22},{"p":"s3","v":-0.015,"lon":178,"t":-18.5,"b":-28},{"p":"s3","v":-0.015,"lon":180,"t":-19,"b":-29.6},{"p":"s3","v":-0.015,"lon":186,"t":-20,"b":-29.6},{"p":"s3","v":-0.015,"lon":191,"t":-15.5,"b":-29.6},{"p":"s3","v":-0.015,"lon":198,"t":-14.5,"b":-29.6},{"p":"s3","v":-0.015,"lon":203,"t":-15.8,"b":-29.6},{"p":"s3","v":-0.015,"lon":208,"t":-18,"b":-27},{"p":"s3","v":-0.015,"lon":211,"t":-20,"b":-26},{"p":"s3","v":-0.015,"lon":212,"t":-23,"b":-24},
{"p":"s4","v":-0.015,"lon":168.2,"t":-14.5,"b":-15},{"p":"s4","v":-0.015,"lon":170,"t":-9.5,"b":-15.5},{"p":"s4","v":-0.015,"lon":171.5,"t":-10,"b":-13.5},
{"p":"w","v":-0.003,"lon":167.6,"t":0.4,"b":-0.5},{"p":"w","v":-0.003,"lon":170,"t":2,"b":-1},{"p":"w","v":-0.003,"lon":173,"t":2.8,"b":-1.8},{"p":"w","v":-0.003,"lon":176.7,"t":4.5,"b":-2.5},{"p":"w","v":-0.003,"lon":180,"t":5,"b":-5.8},{"p":"w","v":-0.003,"lon":184,"t":8.4,"b":-5.7},{"p":"w","v":-0.003,"lon":188,"t":9.5,"b":-5.8},{"p":"w","v":-0.003,"lon":190,"t":10,"b":-6.5},{"p":"w","v":-0.003,"lon":193.7,"t":14,"b":-7.5},{"p":"w","v":-0.003,"lon":198,"t":16,"b":-9.5},{"p":"w","v":-0.003,"lon":203.4,"t":17.5,"b":-11.9},{"p":"w","v":-0.003,"lon":208,"t":17,"b":-13},{"p":"w","v":-0.003,"lon":212,"t":16.7,"b":-15},{"p":"w","v":-0.003,"lon":215.5,"t":18,"b":-16.3},{"p":"w","v":-0.003,"lon":218,"t":20,"b":-17},{"p":"w","v":-0.003,"lon":219.8,"t":23.3,"b":-18},{"p":"w","v":-0.003,"lon":220.5,"t":29.6,"b":-18.5},{"p":"w","v":-0.003,"lon":230,"t":29.6,"b":-20},{"p":"w","v":-0.003,"lon":236,"t":29.6,"b":-21},{"p":"w","v":-0.003,"lon":237,"t":29.6,"b":-29.6},{"p":"w","v":-0.003,"lon":244.4,"t":29.6,"b":-29.6},{"p":"w","v":-0.003,"lon":245,"t":18,"b":-29.6},{"p":"w","v":-0.003,"lon":249.5,"t":13,"b":-29.6},{"p":"w","v":-0.003,"lon":254.4,"t":8.4,"b":-29.6},{"p":"w","v":-0.003,"lon":258,"t":7,"b":-29.6},{"p":"w","v":-0.003,"lon":262.9,"t":5,"b":-29.6},{"p":"w","v":-0.003,"lon":270,"t":3.5,"b":-29.6},{"p":"w","v":-0.003,"lon":278,"t":4,"b":-29.6},{"p":"w","v":-0.003,"lon":279.5,"t":2,"b":-29.6},{"p":"w","v":-0.003,"lon":289.6,"t":-5,"b":-29.6},
{"p":"w2","v":-0.003,"lon":169.4,"t":-22.2,"b":-23.6},{"p":"w2","v":-0.003,"lon":172.4,"t":-22.2,"b":-23.6},
{"p":"w3","v":-0.003,"lon":125.7,"t":-12,"b":-13},{"p":"w3","v":-0.003,"lon":127.5,"t":-12.5,"b":-13},
{"p":"w4","v":-0.003,"lon":259.8,"t":12,"b":10.5},{"p":"w4","v":-0.003,"lon":262,"t":14,"b":10},{"p":"w4","v":-0.003,"lon":264,"t":14.5,"b":11},{"p":"w4","v":-0.003,"lon":265.3,"t":15,"b":14},
{"p":"w5","v":-0.003,"lon":227.6,"t":-24,"b":-24},{"p":"w5","v":-0.003,"lon":229.5,"t":-22.4,"b":-26},{"p":"w5","v":-0.003,"lon":231.9,"t":-24,"b":-24},
{"p":"q1","v":-0.009,"lon":229.5,"t":-5.7,"b":-6.5},{"p":"q1","v":-0.009,"lon":236.2,"t":-4.5,"b":-8},{"p":"q1","v":-0.009,"lon":244.6,"t":-3.5,"b":-9.5},{"p":"q1","v":-0.009,"lon":256.8,"t":-2.8,"b":-10},{"p":"q1","v":-0.009,"lon":266.5,"t":-2.2,"b":-11},{"p":"q1","v":-0.009,"lon":272.6,"t":-4,"b":-6},
{"p":"q2","v":-0.009,"lon":242,"t":2.5,"b":1.5},{"p":"q2","v":-0.009,"lon":244,"t":4.5,"b":1},{"p":"q2","v":-0.009,"lon":246.3,"t":4.8,"b":3},
{"p":"q3","v":-0.009,"lon":270,"t":3.5,"b":2},{"p":"q3","v":-0.009,"lon":275,"t":3.5,"b":0.5},{"p":"q3","v":-0.009,"lon":279.5,"t":3.5,"b":0},
{"p":"q4","v":-0.009,"lon":243.4,"t":-29.6,"b":-29.6},{"p":"q4","v":-0.009,"lon":247,"t":-27,"b":-29.6},{"p":"q4","v":-0.009,"lon":255,"t":-28,"b":-29.6},{"p":"q4","v":-0.009,"lon":259,"t":-29.6,"b":-29.6},
{"p":"q5","v":-0.009,"lon":229.5,"t":28,"b":27},{"p":"q5","v":-0.009,"lon":232,"t":28.5,"b":26},{"p":"q5","v":-0.009,"lon":235.5,"t":28,"b":27},
{"p":"q6","v":-0.009,"lon":239.8,"t":29.6,"b":29.6},{"p":"q6","v":-0.009,"lon":242,"t":29.6,"b":25.5},{"p":"q6","v":-0.009,"lon":244.6,"t":29.6,"b":24},
{"p":"y1","v":0.009,"lon":233.7,"t":22,"b":20},{"p":"y1","v":0.009,"lon":235,"t":22.5,"b":19.3},{"p":"y1","v":0.009,"lon":236.2,"t":21.5,"b":20},
{"p":"y2","v":0.009,"lon":260.4,"t":-15.8,"b":-16},{"p":"y2","v":0.009,"lon":262,"t":-15.8,"b":-19},{"p":"y2","v":0.009,"lon":264,"t":-15.6,"b":-20.5},{"p":"y2","v":0.009,"lon":266.5,"t":-15.5,"b":-23},{"p":"y2","v":0.009,"lon":270.1,"t":-17.5,"b":-23.8},{"p":"y2","v":0.009,"lon":273.8,"t":-21.5,"b":-24},{"p":"y2","v":0.009,"lon":276.8,"t":-23.5,"b":-24},
{"p":"y3","v":0.009,"lon":275,"t":29.6,"b":28},{"p":"y3","v":0.009,"lon":277,"t":29.6,"b":27},
{"p":"g0","v":-0.015,"lon":252,"t":15,"b":14},{"p":"g0","v":-0.015,"lon":255,"t":16.5,"b":13.5},{"p":"g0","v":-0.015,"lon":258,"t":17,"b":13},{"p":"g0","v":-0.015,"lon":259.8,"t":19,"b":15},
{"p":"g1","v":-0.015,"lon":261,"t":29.6,"b":22},{"p":"g1","v":-0.015,"lon":264,"t":29.6,"b":23.5},{"p":"g1","v":-0.015,"lon":268,"t":29.6,"b":23.5},{"p":"g1","v":-0.015,"lon":272,"t":29.6,"b":24.5},{"p":"g1","v":-0.015,"lon":274.5,"t":29.6,"b":26},
{"p":"g2","v":-0.021,"lon":266.5,"t":25,"b":25},{"p":"g2","v":-0.021,"lon":268,"t":27,"b":24.5},{"p":"g2","v":-0.021,"lon":271,"t":28,"b":25},{"p":"g2","v":-0.021,"lon":273.8,"t":28,"b":25},
{"p":"g3","v":-0.027,"lon":271,"t":27,"b":26},{"p":"g3","v":-0.027,"lon":272,"t":28.2,"b":25},{"p":"g3","v":-0.027,"lon":273,"t":27,"b":26},
{"p":"d1","v":-0.021,"lon":120.4,"t":29,"b":22},{"p":"d1","v":-0.021,"lon":125,"t":29.6,"b":19},{"p":"d1","v":-0.021,"lon":128,"t":29,"b":22.5},{"p":"d1","v":-0.021,"lon":130.5,"t":26,"b":24},
{"p":"d2","v":-0.021,"lon":132,"t":29,"b":25},{"p":"d2","v":-0.021,"lon":136,"t":29,"b":23},{"p":"d2","v":-0.021,"lon":140,"t":29,"b":25},{"p":"d2","v":-0.021,"lon":143,"t":26,"b":24},{"p":"d2","v":-0.021,"lon":147,"t":24.5,"b":20.6},
{"p":"d3","v":-0.021,"lon":148,"t":26,"b":24.5},{"p":"d3","v":-0.021,"lon":151,"t":27,"b":22.5},{"p":"d3","v":-0.021,"lon":155,"t":26.5,"b":21.5},{"p":"d3","v":-0.021,"lon":158.5,"t":25,"b":24},
{"p":"d4","v":-0.021,"lon":168.6,"t":24,"b":22},{"p":"d4","v":-0.021,"lon":171,"t":27,"b":21.5},{"p":"d4","v":-0.021,"lon":175,"t":29,"b":22},{"p":"d4","v":-0.021,"lon":178,"t":29.6,"b":24.5},{"p":"d4","v":-0.021,"lon":183,"t":29.6,"b":25},{"p":"d4","v":-0.021,"lon":188.8,"t":29.6,"b":25.5},
{"p":"d5","v":-0.027,"lon":184,"t":29.6,"b":28},{"p":"d5","v":-0.027,"lon":187,"t":29.6,"b":26},{"p":"d5","v":-0.027,"lon":191,"t":29.6,"b":25.5},{"p":"d5","v":-0.027,"lon":194,"t":29.6,"b":25.6},{"p":"d5","v":-0.027,"lon":197,"t":29.6,"b":29.6},
{"p":"d6","v":-0.027,"lon":121.5,"t":29,"b":22.5},{"p":"d6","v":-0.027,"lon":123,"t":29,"b":22.5},{"p":"d6","v":-0.027,"lon":124.5,"t":26,"b":24},
{"p":"d7","v":-0.021,"lon":127,"t":19.5,"b":18},{"p":"d7","v":-0.021,"lon":130,"t":20,"b":16.5},{"p":"d7","v":-0.021,"lon":132.5,"t":19.8,"b":17.5},
{"p":"d8","v":-0.021,"lon":140.2,"t":2.5,"b":2.5},{"p":"d8","v":-0.021,"lon":141.5,"t":4.2,"b":0.8},{"p":"d8","v":-0.021,"lon":143.5,"t":1.5,"b":1.5},
{"p":"d9","v":-0.021,"lon":207.6,"t":27,"b":27},{"p":"d9","v":-0.021,"lon":209,"t":28,"b":25.5},{"p":"d9","v":-0.021,"lon":210,"t":27,"b":27},
{"p":"d10","v":-0.021,"lon":191,"t":-29.6,"b":-29.6},{"p":"d10","v":-0.021,"lon":194,"t":-28.2,"b":-29.6},{"p":"d10","v":-0.021,"lon":196,"t":-29.6,"b":-29.6}
],
"pc1":[{"year":1982,"pc":-0.1},{"year":1983,"pc":2.33},{"year":1984,"pc":-0.31},{"year":1985,"pc":-1.02},{"year":1986,"pc":-0.46},{"year":1987,"pc":0.94},{"year":1988,"pc":0.65},{"year":1989,"pc":-1.61},{"year":1990,"pc":-0.12},{"year":1991,"pc":0.2},{"year":1992,"pc":1.18},{"year":1993,"pc":0.45},{"year":1994,"pc":0.16},{"year":1995,"pc":0.8},{"year":1996,"pc":-0.7},{"year":1997,"pc":-0.6},{"year":1998,"pc":2.33},{"year":1999,"pc":-1.31},{"year":2000,"pc":-1.5},{"year":2001,"pc":-0.78},{"year":2002,"pc":-0.35},{"year":2003,"pc":0.76},{"year":2004,"pc":0.18},{"year":2005,"pc":0.35},{"year":2006,"pc":-0.66},{"year":2007,"pc":0.57},{"year":2008,"pc":-1.53},{"year":2009,"pc":-0.73},{"year":2010,"pc":1.04},{"year":2011,"pc":-1.65},{"year":2012,"pc":-0.96},{"year":2013,"pc":-0.31},{"year":2014,"pc":-0.37},{"year":2015,"pc":0.53},{"year":2016,"pc":2.06},{"year":2017,"pc":0.08},{"year":2018,"pc":-0.71},{"year":2019,"pc":0.57},{"year":2020,"pc":0.45}],
"pc2":[{"year":1982,"pc":-0.41},{"year":1983,"pc":2.41},{"year":1984,"pc":0.14},{"year":1985,"pc":0.2},{"year":1986,"pc":-0.84},{"year":1987,"pc":0.1},{"year":1988,"pc":-0.2},{"year":1989,"pc":1.1},{"year":1990,"pc":-0.49},{"year":1991,"pc":-1.51},{"year":1992,"pc":0.61},{"year":1993,"pc":-0.65},{"year":1994,"pc":-0.94},{"year":1995,"pc":-0.16},{"year":1996,"pc":-0.59},{"year":1997,"pc":-0.86},{"year":1998,"pc":2.37},{"year":1999,"pc":1.8},{"year":2000,"pc":1.04},{"year":2001,"pc":1.0},{"year":2002,"pc":-0.65},{"year":2003,"pc":-0.59},{"year":2004,"pc":-0.57},{"year":2005,"pc":-0.9},{"year":2006,"pc":0.27},{"year":2007,"pc":0.29},{"year":2008,"pc":1.04},{"year":2009,"pc":0.78},{"year":2010,"pc":-0.8},{"year":2011,"pc":0.71},{"year":2012,"pc":1.31},{"year":2013,"pc":-0.22},{"year":2014,"pc":-0.82},{"year":2015,"pc":-1.82},{"year":2016,"pc":0.41},{"year":2017,"pc":0.43},{"year":2018,"pc":-1.45},{"year":2019,"pc":-0.67},{"year":2020,"pc":-1.08}],
"pc3":[{"year":1982,"pc":0.18},{"year":1983,"pc":1.18},{"year":1984,"pc":0.57},{"year":1985,"pc":1.78},{"year":1986,"pc":1.1},{"year":1987,"pc":1.14},{"year":1988,"pc":-0.29},{"year":1989,"pc":0.61},{"year":1990,"pc":1.22},{"year":1991,"pc":1.04},{"year":1992,"pc":1.65},{"year":1993,"pc":2.24},{"year":1994,"pc":0.65},{"year":1995,"pc":0.8},{"year":1996,"pc":0.0},{"year":1997,"pc":0.82},{"year":1998,"pc":-0.43},{"year":1999,"pc":-1.31},{"year":2000,"pc":0.06},{"year":2001,"pc":-0.9},{"year":2002,"pc":-0.37},{"year":2003,"pc":-0.04},{"year":2004,"pc":-0.71},{"year":2005,"pc":-0.33},{"year":2006,"pc":-0.8},{"year":2007,"pc":-0.37},{"year":2008,"pc":-0.06},{"year":2009,"pc":-0.31},{"year":2010,"pc":0.02},{"year":2011,"pc":0.33},{"year":2012,"pc":-0.14},{"year":2013,"pc":-0.24},{"year":2014,"pc":-0.65},{"year":2015,"pc":-0.63},{"year":2016,"pc":-1.8},{"year":2017,"pc":-1.94},{"year":2018,"pc":-0.98},{"year":2019,"pc":-1.39},{"year":2020,"pc":-1.94}],
"cb":[{"lo":-0.06,"hi":-0.054,"v":-0.057},{"lo":-0.054,"hi":-0.048,"v":-0.051},{"lo":-0.048,"hi":-0.042,"v":-0.045},{"lo":-0.042,"hi":-0.036,"v":-0.039},{"lo":-0.036,"hi":-0.03,"v":-0.033},{"lo":-0.03,"hi":-0.024,"v":-0.027},{"lo":-0.024,"hi":-0.018,"v":-0.021},{"lo":-0.018,"hi":-0.012,"v":-0.015},{"lo":-0.012,"hi":-0.006,"v":-0.009},{"lo":-0.006,"hi":0,"v":-0.003},{"lo":0,"hi":0.006,"v":0.003},{"lo":0.006,"hi":0.012,"v":0.009},{"lo":0.012,"hi":0.018,"v":0.015},{"lo":0.018,"hi":0.024,"v":0.021},{"lo":0.024,"hi":0.03,"v":0.027},{"lo":0.03,"hi":0.036,"v":0.033},{"lo":0.036,"hi":0.042,"v":0.039},{"lo":0.042,"hi":0.048,"v":0.045},{"lo":0.048,"hi":0.054,"v":0.051},{"lo":0.054,"hi":0.06,"v":0.057}]
},
"concat":[
{"width":638,"height":222,"title":{"text":"EOF1 pattern","anchor":"start","frame":"group","fontSize":33.5,"offset":17},"layer":[
{"data":{"name":"eof1"},"mark":{"type":"area","interpolate":"monotone","clip":true},"encoding":{"x":{"field":"lon","type":"quantitative","scale":{"domain":[120.5,289.5],"nice":false,"zero":false},"axis":{"values":[140,180,220,260],"labelExpr":"datum.value==140?'140°E':datum.value==180?'180°':datum.value==220?'140°W':'100°W'","tickSize":0,"domain":false,"grid":false,"title":null,"labelFontSize":27,"labelPadding":14.5}},"y":{"field":"t","type":"quantitative","scale":{"domain":[-29.4,29.4],"nice":false,"zero":false},"axis":{"values":[-20,0,20],"labelExpr":"datum.value==20?'20°N':datum.value==0?'0°':'20°S'","tickSize":0,"domain":false,"grid":false,"title":null,"labelFontSize":27,"labelPadding":13}},"y2":{"field":"b"},"detail":{"field":"p"},"color":{"field":"v","type":"ordinal","legend":null,"scale":{"domain":[-0.057,-0.051,-0.045,-0.039,-0.033,-0.027,-0.021,-0.015,-0.009,-0.003,0.003,0.009,0.015,0.021,0.027,0.033,0.039,0.045,0.051,0.057],"range":["#072c5f","#0a4a8c","#1f6aab","#3f8fc6","#5aa9d0","#7fc0da","#9bd2e4","#b9e4ee","#d4f1fb","#ffffff","#ffffff","#fff6ae","#ffe87c","#f9d55a","#f1bb3e","#e6811c","#dd6a12","#d05808","#b53f08","#8b2d14"]}}}},
{"data":{"name":"land"},"mark":{"type":"area","clip":true,"fill":"#d0d0d0","stroke":"#333333","strokeWidth":1.3},"encoding":{"x":{"field":"lon","type":"quantitative"},"y":{"field":"t","type":"quantitative"},"y2":{"field":"b"},"detail":{"field":"p"}}},
{"data":{"name":"gridlon"},"mark":{"type":"rule","stroke":"#999999","strokeWidth":2.5,"strokeDash":[2.5,4.9]},"encoding":{"x":{"field":"lon","type":"quantitative"}}},
{"data":{"name":"gridlat"},"mark":{"type":"rule","stroke":"#999999","strokeWidth":2.5,"strokeDash":[2.5,4.9]},"encoding":{"y":{"field":"t","type":"quantitative"}}},
{"data":{"name":"one"},"mark":{"type":"rect","fillOpacity":0,"stroke":"black","strokeWidth":2},"encoding":{"x":{"datum":120.5},"x2":{"datum":289.5},"y":{"datum":-29.4},"y2":{"datum":29.4}}}
]},
{"width":638,"height":222,"title":{"text":"EOF2 pattern","anchor":"start","frame":"group","fontSize":33.5,"offset":17},"layer":[
{"data":{"name":"eof2"},"mark":{"type":"area","interpolate":"monotone","clip":true},"encoding":{"x":{"field":"lon","type":"quantitative","scale":{"domain":[120.5,289.5],"nice":false,"zero":false},"axis":{"values":[140,180,220,260],"labelExpr":"datum.value==140?'140°E':datum.value==180?'180°':datum.value==220?'140°W':'100°W'","tickSize":0,"domain":false,"grid":false,"title":null,"labelFontSize":27,"labelPadding":14.5}},"y":{"field":"t","type":"quantitative","scale":{"domain":[-29.4,29.4],"nice":false,"zero":false},"axis":{"values":[-20,0,20],"labelExpr":"datum.value==20?'20°N':datum.value==0?'0°':'20°S'","tickSize":0,"domain":false,"grid":false,"title":null,"labelFontSize":27,"labelPadding":13}},"y2":{"field":"b"},"detail":{"field":"p"},"color":{"field":"v","type":"ordinal","legend":null,"scale":{"domain":[-0.057,-0.051,-0.045,-0.039,-0.033,-0.027,-0.021,-0.015,-0.009,-0.003,0.003,0.009,0.015,0.021,0.027,0.033,0.039,0.045,0.051,0.057],"range":["#072c5f","#0a4a8c","#1f6aab","#3f8fc6","#5aa9d0","#7fc0da","#9bd2e4","#b9e4ee","#d4f1fb","#ffffff","#ffffff","#fff6ae","#ffe87c","#f9d55a","#f1bb3e","#e6811c","#dd6a12","#d05808","#b53f08","#8b2d14"]}}}},
{"data":{"name":"land"},"mark":{"type":"area","clip":true,"fill":"#d0d0d0","stroke":"#333333","strokeWidth":1.3},"encoding":{"x":{"field":"lon","type":"quantitative"},"y":{"field":"t","type":"quantitative"},"y2":{"field":"b"},"detail":{"field":"p"}}},
{"data":{"name":"gridlon"},"mark":{"type":"rule","stroke":"#999999","strokeWidth":2.5,"strokeDash":[2.5,4.9]},"encoding":{"x":{"field":"lon","type":"quantitative"}}},
{"data":{"name":"gridlat"},"mark":{"type":"rule","stroke":"#999999","strokeWidth":2.5,"strokeDash":[2.5,4.9]},"encoding":{"y":{"field":"t","type":"quantitative"}}},
{"data":{"name":"one"},"mark":{"type":"rect","fillOpacity":0,"stroke":"black","strokeWidth":2},"encoding":{"x":{"datum":120.5},"x2":{"datum":289.5},"y":{"datum":-29.4},"y2":{"datum":29.4}}}
]},
{"width":638,"height":222,"title":{"text":"EOF3 pattern","anchor":"start","frame":"group","fontSize":33.5,"offset":17},"layer":[
{"data":{"name":"eof3"},"mark":{"type":"area","interpolate":"monotone","clip":true},"encoding":{"x":{"field":"lon","type":"quantitative","scale":{"domain":[120.5,289.5],"nice":false,"zero":false},"axis":{"values":[140,180,220,260],"labelExpr":"datum.value==140?'140°E':datum.value==180?'180°':datum.value==220?'140°W':'100°W'","tickSize":0,"domain":false,"grid":false,"title":null,"labelFontSize":27,"labelPadding":14.5}},"y":{"field":"t","type":"quantitative","scale":{"domain":[-29.4,29.4],"nice":false,"zero":false},"axis":{"values":[-20,0,20],"labelExpr":"datum.value==20?'20°N':datum.value==0?'0°':'20°S'","tickSize":0,"domain":false,"grid":false,"title":null,"labelFontSize":27,"labelPadding":13}},"y2":{"field":"b"},"detail":{"field":"p"},"color":{"field":"v","type":"ordinal","legend":null,"scale":{"domain":[-0.057,-0.051,-0.045,-0.039,-0.033,-0.027,-0.021,-0.015,-0.009,-0.003,0.003,0.009,0.015,0.021,0.027,0.033,0.039,0.045,0.051,0.057],"range":["#072c5f","#0a4a8c","#1f6aab","#3f8fc6","#5aa9d0","#7fc0da","#9bd2e4","#b9e4ee","#d4f1fb","#ffffff","#ffffff","#fff6ae","#ffe87c","#f9d55a","#f1bb3e","#e6811c","#dd6a12","#d05808","#b53f08","#8b2d14"]}}}},
{"data":{"name":"land"},"mark":{"type":"area","clip":true,"fill":"#d0d0d0","stroke":"#333333","strokeWidth":1.3},"encoding":{"x":{"field":"lon","type":"quantitative"},"y":{"field":"t","type":"quantitative"},"y2":{"field":"b"},"detail":{"field":"p"}}},
{"data":{"name":"gridlon"},"mark":{"type":"rule","stroke":"#999999","strokeWidth":2.5,"strokeDash":[2.5,4.9]},"encoding":{"x":{"field":"lon","type":"quantitative"}}},
{"data":{"name":"gridlat"},"mark":{"type":"rule","stroke":"#999999","strokeWidth":2.5,"strokeDash":[2.5,4.9]},"encoding":{"y":{"field":"t","type":"quantitative"}}},
{"data":{"name":"one"},"mark":{"type":"rect","fillOpacity":0,"stroke":"black","strokeWidth":2},"encoding":{"x":{"datum":120.5},"x2":{"datum":289.5},"y":{"datum":-29.4},"y2":{"datum":29.4}}}
]},
{"width":638,"height":33,"data":{"name":"one"},"mark":{"type":"rule","opacity":0},"encoding":{}},
{"width":638,"height":33,"layer":[
{"data":{"name":"cb"},"mark":{"type":"rect","stroke":"black","strokeWidth":1.2},"encoding":{"x":{"field":"lo","type":"quantitative","scale":{"domain":[-0.06,0.06],"range":[-7,645],"nice":false,"zero":false},"axis":{"values":[-0.06,-0.03,0,0.03,0.06],"format":".2f","tickSize":10,"tickWidth":2,"domain":false,"grid":false,"title":"Eigenvector","labelFontSize":26,"titleFontSize":26,"labelPadding":9,"titlePadding":16}},"x2":{"field":"hi"},"y":{"datum":0,"scale":{"domain":[0,1],"nice":false,"zero":false},"axis":null},"y2":{"datum":1},"color":{"field":"v","type":"ordinal","legend":null,"scale":{"domain":[-0.057,-0.051,-0.045,-0.039,-0.033,-0.027,-0.021,-0.015,-0.009,-0.003,0.003,0.009,0.015,0.021,0.027,0.033,0.039,0.045,0.051,0.057],"range":["#072c5f","#0a4a8c","#1f6aab","#3f8fc6","#5aa9d0","#7fc0da","#9bd2e4","#b9e4ee","#d4f1fb","#ffffff","#ffffff","#fff6ae","#ffe87c","#f9d55a","#f1bb3e","#e6811c","#dd6a12","#d05808","#b53f08","#8b2d14"]}}}},
{"data":{"name":"cbmin"},"mark":{"type":"tick","orient":"vertical","size":6,"thickness":1.3,"yOffset":3,"color":"black","opacity":1},"encoding":{"x":{"field":"lo","type":"quantitative"},"y":{"datum":0}}},
{"data":{"name":"one"},"mark":{"type":"rect","fillOpacity":0,"stroke":"black","strokeWidth":2},"encoding":{"x":{"datum":-0.06},"x2":{"datum":0.06},"y":{"datum":0},"y2":{"datum":1}}}
]},
{"width":638,"height":33,"data":{"name":"one"},"mark":{"type":"rule","opacity":0},"encoding":{}},
{"width":638,"height":92.5,"data":{"name":"one"},"mark":{"type":"rule","opacity":0},"encoding":{}},
{"width":638,"height":92.5,"data":{"name":"one"},"mark":{"type":"rule","opacity":0},"encoding":{}},
{"width":638,"height":92.5,"data":{"name":"one"},"mark":{"type":"rule","opacity":0},"encoding":{}},
{"width":638,"height":317,"title":{"text":"PC1 (normalized)","anchor":"start","frame":"group","fontSize":33.5,"offset":-33},"layer":[
{"data":{"name":"pc1"},"mark":{"type":"bar","width":15.56,"stroke":"black","strokeWidth":1.2},"encoding":{"x":{"field":"year","type":"quantitative","scale":{"domain":[1979.5,2020.5],"nice":false,"zero":false,"padding":0},"axis":{"values":[1980,1990,2000,2010,2020],"format":"d","tickSize":22,"tickWidth":2.5,"domain":false,"grid":false,"title":"Year","labelFontSize":26.5,"titleFontSize":26,"labelPadding":10,"titlePadding":13}},"y":{"field":"pc","type":"quantitative","scale":{"domain":[-3,3.5],"nice":false,"zero":false},"axis":{"values":[-2,0,2],"format":"d","tickSize":21,"tickWidth":2.5,"domain":false,"grid":false,"title":null,"labelFontSize":26.5,"labelPadding":10}},"y2":{"datum":0},"color":{"condition":{"test":"datum.pc>0","value":"#ff0000"},"value":"#0000ff"}}},
{"data":{"name":"one"},"mark":{"type":"rule","stroke":"black","strokeWidth":2},"encoding":{"y":{"datum":0}}},
{"data":{"name":"one"},"mark":{"type":"rect","fillOpacity":0,"stroke":"black","strokeWidth":2},"encoding":{"x":{"datum":1979.5},"x2":{"datum":2020.5},"y":{"datum":-3},"y2":{"datum":3.5}}},
{"data":{"name":"xmin"},"mark":{"type":"tick","orient":"vertical","size":12,"thickness":1.3,"yOffset":6,"color":"black","opacity":1},"encoding":{"x":{"field":"year","type":"quantitative"},"y":{"datum":-3}}},
{"data":{"name":"xmin"},"mark":{"type":"tick","orient":"vertical","size":11,"thickness":1.3,"yOffset":-5.5,"color":"black","opacity":1},"encoding":{"x":{"field":"year","type":"quantitative"},"y":{"datum":3.5}}},
{"data":{"name":"xmaj"},"mark":{"type":"tick","orient":"vertical","size":22,"thickness":2.5,"yOffset":-11,"color":"black","opacity":1},"encoding":{"x":{"field":"year","type":"quantitative"},"y":{"datum":3.5}}},
{"data":{"name":"ymin"},"mark":{"type":"tick","orient":"horizontal","size":10,"thickness":1.3,"xOffset":-5,"color":"black","opacity":1},"encoding":{"y":{"field":"pc","type":"quantitative"},"x":{"datum":1979.5}}},
{"data":{"name":"ymin"},"mark":{"type":"tick","orient":"horizontal","size":11,"thickness":1.3,"xOffset":5.5,"color":"black","opacity":1},"encoding":{"y":{"field":"pc","type":"quantitative"},"x":{"datum":2020.5}}},
{"data":{"name":"ymaj"},"mark":{"type":"tick","orient":"horizontal","size":22,"thickness":2.5,"xOffset":11,"color":"black","opacity":1},"encoding":{"y":{"field":"pc","type":"quantitative"},"x":{"datum":2020.5}}},
{"data":{"values":[{"label":"52.1%"}]},"mark":{"type":"text","fontSize":33.5,"align":"right","baseline":"alphabetic","dy":-30,"dx":-2},"encoding":{"x":{"datum":2020.5},"y":{"datum":3.5},"text":{"field":"label"}}}
]},
{"width":638,"height":317,"title":{"text":"PC2 (normalized)","anchor":"start","frame":"group","fontSize":33.5,"offset":-33},"layer":[
{"data":{"name":"pc2"},"mark":{"type":"bar","width":15.56,"stroke":"black","strokeWidth":1.2},"encoding":{"x":{"field":"year","type":"quantitative","scale":{"domain":[1979.5,2020.5],"nice":false,"zero":false,"padding":0},"axis":{"values":[1980,1990,2000,2010,2020],"format":"d","tickSize":22,"tickWidth":2.5,"domain":false,"grid":false,"title":"Year","labelFontSize":26.5,"titleFontSize":26,"labelPadding":10,"titlePadding":13}},"y":{"field":"pc","type":"quantitative","scale":{"domain":[-3,3.5],"nice":false,"zero":false},"axis":{"values":[-2,0,2],"format":"d","tickSize":21,"tickWidth":2.5,"domain":false,"grid":false,"title":null,"labelFontSize":26.5,"labelPadding":10}},"y2":{"datum":0},"color":{"condition":{"test":"datum.pc>0","value":"#ff0000"},"value":"#0000ff"}}},
{"data":{"name":"one"},"mark":{"type":"rule","stroke":"black","strokeWidth":2},"encoding":{"y":{"datum":0}}},
{"data":{"name":"one"},"mark":{"type":"rect","fillOpacity":0,"stroke":"black","strokeWidth":2},"encoding":{"x":{"datum":1979.5},"x2":{"datum":2020.5},"y":{"datum":-3},"y2":{"datum":3.5}}},
{"data":{"name":"xmin"},"mark":{"type":"tick","orient":"vertical","size":12,"thickness":1.3,"yOffset":6,"color":"black","opacity":1},"encoding":{"x":{"field":"year","type":"quantitative"},"y":{"datum":-3}}},
{"data":{"name":"xmin"},"mark":{"type":"tick","orient":"vertical","size":11,"thickness":1.3,"yOffset":-5.5,"color":"black","opacity":1},"encoding":{"x":{"field":"year","type":"quantitative"},"y":{"datum":3.5}}},
{"data":{"name":"xmaj"},"mark":{"type":"tick","orient":"vertical","size":22,"thickness":2.5,"yOffset":-11,"color":"black","opacity":1},"encoding":{"x":{"field":"year","type":"quantitative"},"y":{"datum":3.5}}},
{"data":{"name":"ymin"},"mark":{"type":"tick","orient":"horizontal","size":10,"thickness":1.3,"xOffset":-5,"color":"black","opacity":1},"encoding":{"y":{"field":"pc","type":"quantitative"},"x":{"datum":1979.5}}},
{"data":{"name":"ymin"},"mark":{"type":"tick","orient":"horizontal","size":11,"thickness":1.3,"xOffset":5.5,"color":"black","opacity":1},"encoding":{"y":{"field":"pc","type":"quantitative"},"x":{"datum":2020.5}}},
{"data":{"name":"ymaj"},"mark":{"type":"tick","orient":"horizontal","size":22,"thickness":2.5,"xOffset":11,"color":"black","opacity":1},"encoding":{"y":{"field":"pc","type":"quantitative"},"x":{"datum":2020.5}}},
{"data":{"values":[{"label":"10.0%"}]},"mark":{"type":"text","fontSize":33.5,"align":"right","baseline":"alphabetic","dy":-30,"dx":-2},"encoding":{"x":{"datum":2020.5},"y":{"datum":3.5},"text":{"field":"label"}}}
]},
{"width":638,"height":317,"title":{"text":"PC3 (normalized)","anchor":"start","frame":"group","fontSize":33.5,"offset":-33},"layer":[
{"data":{"name":"pc3"},"mark":{"type":"bar","width":15.56,"stroke":"black","strokeWidth":1.2},"encoding":{"x":{"field":"year","type":"quantitative","scale":{"domain":[1979.5,2020.5],"nice":false,"zero":false,"padding":0},"axis":{"values":[1980,1990,2000,2010,2020],"format":"d","tickSize":22,"tickWidth":2.5,"domain":false,"grid":false,"title":"Year","labelFontSize":26.5,"titleFontSize":26,"labelPadding":10,"titlePadding":13}},"y":{"field":"pc","type":"quantitative","scale":{"domain":[-3,3.5],"nice":false,"zero":false},"axis":{"values":[-2,0,2],"format":"d","tickSize":21,"tickWidth":2.5,"domain":false,"grid":false,"title":null,"labelFontSize":26.5,"labelPadding":10}},"y2":{"datum":0},"color":{"condition":{"test":"datum.pc>0","value":"#ff0000"},"value":"#0000ff"}}},
{"data":{"name":"one"},"mark":{"type":"rule","stroke":"black","strokeWidth":2},"encoding":{"y":{"datum":0}}},
{"data":{"name":"one"},"mark":{"type":"rect","fillOpacity":0,"stroke":"black","strokeWidth":2},"encoding":{"x":{"datum":1979.5},"x2":{"datum":2020.5},"y":{"datum":-3},"y2":{"datum":3.5}}},
{"data":{"name":"xmin"},"mark":{"type":"tick","orient":"vertical","size":12,"thickness":1.3,"yOffset":6,"color":"black","opacity":1},"encoding":{"x":{"field":"year","type":"quantitative"},"y":{"datum":-3}}},
{"data":{"name":"xmin"},"mark":{"type":"tick","orient":"vertical","size":11,"thickness":1.3,"yOffset":-5.5,"color":"black","opacity":1},"encoding":{"x":{"field":"year","type":"quantitative"},"y":{"datum":3.5}}},
{"data":{"name":"xmaj"},"mark":{"type":"tick","orient":"vertical","size":22,"thickness":2.5,"yOffset":-11,"color":"black","opacity":1},"encoding":{"x":{"field":"year","type":"quantitative"},"y":{"datum":3.5}}},
{"data":{"name":"ymin"},"mark":{"type":"tick","orient":"horizontal","size":10,"thickness":1.3,"xOffset":-5,"color":"black","opacity":1},"encoding":{"y":{"field":"pc","type":"quantitative"},"x":{"datum":1979.5}}},
{"data":{"name":"ymin"},"mark":{"type":"tick","orient":"horizontal","size":11,"thickness":1.3,"xOffset":5.5,"color":"black","opacity":1},"encoding":{"y":{"field":"pc","type":"quantitative"},"x":{"datum":2020.5}}},
{"data":{"name":"ymaj"},"mark":{"type":"tick","orient":"horizontal","size":22,"thickness":2.5,"xOffset":11,"color":"black","opacity":1},"encoding":{"y":{"field":"pc","type":"quantitative"},"x":{"datum":2020.5}}},
{"data":{"values":[{"label":"7.5%"}]},"mark":{"type":"text","fontSize":33.5,"align":"right","baseline":"alphabetic","dy":-30,"dx":-2},"encoding":{"x":{"datum":2020.5},"y":{"datum":3.5},"text":{"field":"label"}}}
]}
],"columns":3,"spacing":{"row":59,"column":128},"bounds":"flush","align":"each"}
